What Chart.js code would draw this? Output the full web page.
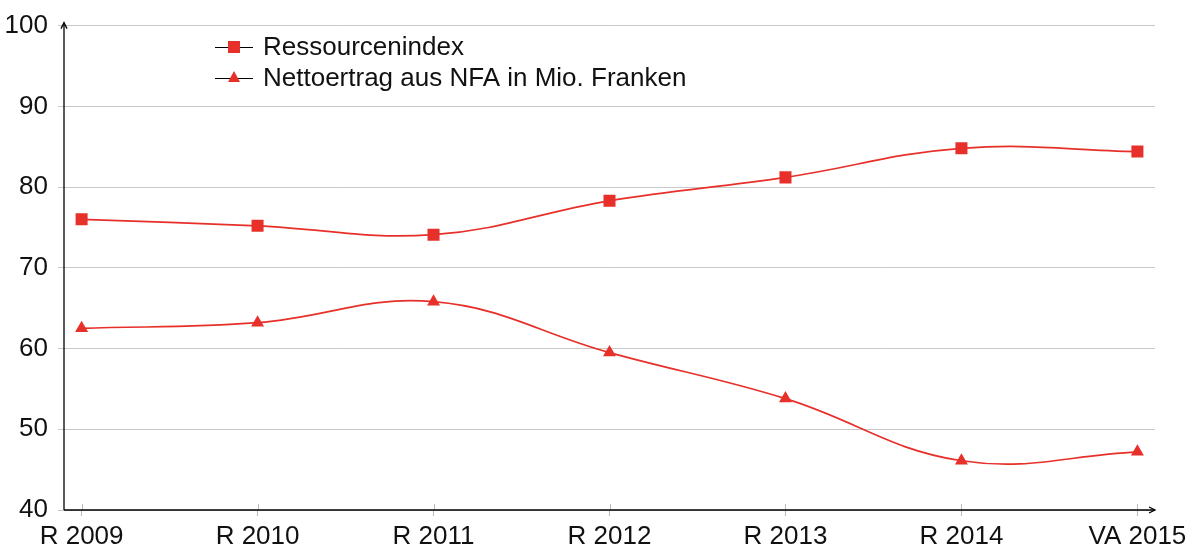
<!DOCTYPE html>
<html>
<head>
<meta charset="utf-8">
<script src="https://cdn.jsdelivr.net/npm/chart.js@4"></script>
<style>
  html, body { margin: 0; padding: 0; background: #fff; }
  #wrap { width: 1192px; height: 547px; }
</style>
</head>
<body>
<div id="wrap"><canvas id="chart" width="1192" height="547"></canvas></div>
<script>
// values
const years = ["R 2009", "R 2010", "R 2011", "R 2012", "R 2013", "R 2014", "VA 2015"];
const ressourcen = [76.0, 75.2, 74.1, 78.3, 81.2, 84.8, 84.4];
const netto = [62.5, 63.2, 65.8, 59.5, 53.8, 46.1, 47.2];
const yTicks = [40, 50, 60, 70, 80, 90, 100];

const red = "#e8302a";
const fontName = "'Liberation Sans', Arial, Helvetica, sans-serif";

const toPoints = arr => arr.map((v, i) => ({ x: i, y: v }));

// axis lines, arrows, inner tick marks and the legend
const decor = {
    id: "decor",
    afterDraw(chart) {
        const ctx = chart.ctx;
        const area = chart.chartArea;
        const xs = chart.scales.x;
        ctx.save();

        // small tick marks inside the plot on the x axis
        ctx.strokeStyle = "#bbbbbb";
        ctx.lineWidth = 1;
        years.forEach((_, i) => {
            const px = Math.round(xs.getPixelForValue(i)) + 0.5;
            ctx.beginPath();
            ctx.moveTo(px, area.bottom - 6);
            ctx.lineTo(px, area.bottom);
            ctx.stroke();
        });

        ctx.strokeStyle = "#000";
        ctx.fillStyle = "#000";
        ctx.lineWidth = 1.3;
        // y axis
        ctx.beginPath();
        ctx.moveTo(area.left, area.bottom);
        ctx.lineTo(area.left, area.top - 3);
        ctx.stroke();
        ctx.beginPath();
        ctx.moveTo(area.left - 3, area.top + 3);
        ctx.lineTo(area.left, area.top - 3);
        ctx.lineTo(area.left + 3, area.top + 3);
        ctx.stroke();
        // x axis
        ctx.beginPath();
        ctx.moveTo(area.left, area.bottom);
        ctx.lineTo(area.right, area.bottom);
        ctx.stroke();
        ctx.beginPath();
        ctx.moveTo(area.right - 6, area.bottom - 3);
        ctx.lineTo(area.right, area.bottom);
        ctx.lineTo(area.right - 6, area.bottom + 3);
        ctx.stroke();

        // legend
        const rows = [47, 78];
        chart.data.datasets.forEach((ds, i) => {
            const y = rows[i];
            ctx.strokeStyle = "#000";
            ctx.lineWidth = 1;
            ctx.beginPath();
            ctx.moveTo(215, y + 0.5);
            ctx.lineTo(253, y + 0.5);
            ctx.stroke();
            ctx.fillStyle = red;
            if (ds.pointStyle === "rect") {
                ctx.fillRect(228, y - 6, 12, 12);
            } else {
                ctx.beginPath();
                ctx.moveTo(234, y - 7);
                ctx.lineTo(240, y + 4);
                ctx.lineTo(228, y + 4);
                ctx.closePath();
                ctx.fill();
            }
            ctx.fillStyle = "#111";
            ctx.font = "26px " + fontName;
            ctx.textBaseline = "middle";
            ctx.textAlign = "left";
            ctx.fillText(ds.label, 263, y + 1);
        });
        ctx.restore();
    }
};

new Chart(document.getElementById("chart").getContext("2d"), {
    type: "line",
    data: {
        datasets: [{
            label: "Ressourcenindex",
            data: toPoints(ressourcen),
            borderColor: red,
            backgroundColor: red,
            borderWidth: 1.7,
            pointStyle: "rect",
            pointRadius: 8.5,
            pointBorderWidth: 0,
            tension: 0.4
        }, {
            label: "Nettoertrag aus NFA in Mio. Franken",
            data: toPoints(netto),
            borderColor: red,
            backgroundColor: red,
            borderWidth: 1.7,
            pointStyle: "triangle",
            pointRadius: 7.5,
            pointBorderWidth: 0,
            tension: 0.4
        }]
    },
    options: {
        responsive: false,
        animation: false,
        layout: { padding: { top: 25, right: 37, left: 0, bottom: 0 } },
        plugins: { legend: { display: false }, tooltip: { enabled: false } },
        scales: {
            x: {
                type: "linear",
                min: -0.1,
                max: 6.1,
                afterBuildTicks: s => { s.ticks = years.map((_, i) => ({ value: i })); },
                afterFit: s => { s.height = 37; },
                border: { display: false },
                grid: { drawOnChartArea: false, tickLength: 6, color: "#bbbbbb" },
                ticks: {
                    autoSkip: false,
                    maxRotation: 0,
                    padding: 5,
                    color: "#111",
                    font: { family: fontName, size: 26 },
                    callback: v => years[v] ?? ""
                }
            },
            y: {
                min: 40,
                max: 100,
                afterBuildTicks: s => { s.ticks = yTicks.map(v => ({ value: v })); },
                afterFit: s => { s.width = 64; },
                border: { display: false },
                grid: { color: "#c8c8c8", tickLength: 6, lineWidth: 1 },
                ticks: {
                    padding: 10,
                    color: "#111",
                    font: { family: fontName, size: 26 }
                }
            }
        }
    },
    plugins: [decor]
});
</script>
</body>
</html>
